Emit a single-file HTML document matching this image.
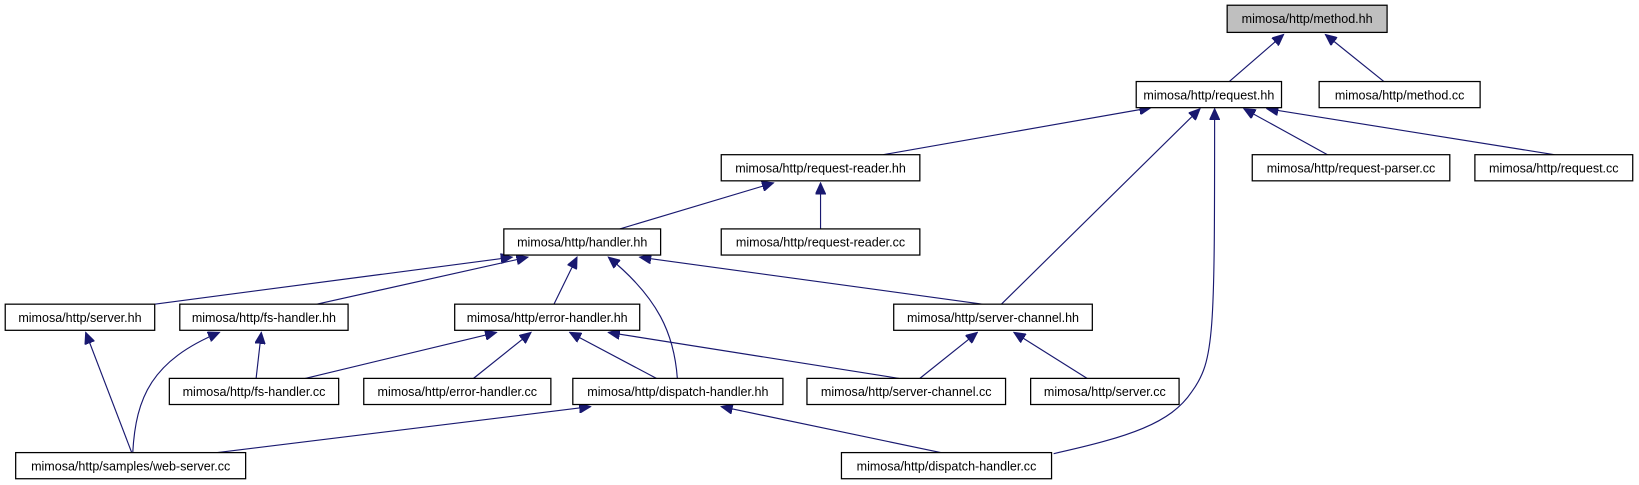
<!DOCTYPE html>
<html><head><meta charset="utf-8"><style>
html,body{margin:0;padding:0;background:#fff;}
svg{display:block;}
text{font-family:"Liberation Sans",sans-serif;font-size:12px;fill:#000;}
</style></head><body>
<svg width="1639" height="485" viewBox="0 0 1568 464" preserveAspectRatio="none" xmlns="http://www.w3.org/2000/svg">
<defs>
<marker id="a" markerUnits="userSpaceOnUse" markerWidth="12" markerHeight="10" refX="11" refY="5" orient="auto">
<path d="M0,0 L11,5 L0,10 z" fill="#191970" stroke="#191970"/>
</marker>
</defs>
<g stroke="#191970" stroke-width="1.1" fill="none" marker-end="url(#a)">
<line x1="1176" y1="78" x2="1228" y2="33"/>
<line x1="1324" y1="78" x2="1268" y2="33"/>
<line x1="845" y1="148" x2="1101" y2="103"/>
<line x1="1270" y1="148" x2="1190" y2="104"/>
<line x1="1487" y1="148" x2="1212" y2="104"/>
<line x1="958" y1="291" x2="1148" y2="104"/>
<path d="M1008,434 C1080,418 1120,405 1140,375 C1162,345 1162,320 1162,104"/>
<line x1="593" y1="219" x2="740" y2="175"/>
<line x1="785" y1="219" x2="785" y2="175"/>
<line x1="148" y1="291" x2="490" y2="246"/>
<line x1="303" y1="291" x2="505" y2="246"/>
<line x1="530" y1="291" x2="552" y2="246"/>
<path d="M648,362 C645,320 630,285 582,246"/>
<line x1="940" y1="291" x2="612" y2="246"/>
<line x1="126" y1="433" x2="82" y2="318"/>
<path d="M127,433 C130,380 145,345 210,318"/>
<line x1="245" y1="362" x2="250" y2="318"/>
<line x1="292" y1="362" x2="475" y2="318"/>
<line x1="453" y1="362" x2="508" y2="318"/>
<line x1="628" y1="362" x2="545" y2="318"/>
<line x1="860" y1="362" x2="582" y2="318"/>
<line x1="880" y1="362" x2="935" y2="318"/>
<line x1="1040" y1="362" x2="970" y2="318"/>
<line x1="208" y1="433" x2="565" y2="389"/>
<line x1="900" y1="433" x2="690" y2="389"/>
</g>
<g stroke="#000" stroke-width="1.2" fill="#fff">
<rect x="1174" y="5" width="153" height="26" fill="#bfbfbf"/>
<rect x="1087" y="78" width="139" height="25"/>
<rect x="1262" y="78" width="154" height="25"/>
<rect x="690" y="148" width="190" height="25"/>
<rect x="1198" y="148" width="189" height="25"/>
<rect x="1411" y="148" width="151" height="25"/>
<rect x="482" y="219" width="150" height="25"/>
<rect x="690" y="219" width="190" height="25"/>
<rect x="5" y="291" width="143" height="25"/>
<rect x="172" y="291" width="161" height="25"/>
<rect x="435" y="291" width="177" height="25"/>
<rect x="855" y="291" width="190" height="25"/>
<rect x="162" y="362" width="162" height="25"/>
<rect x="348" y="362" width="179" height="25"/>
<rect x="548" y="362" width="201" height="25"/>
<rect x="772" y="362" width="190" height="25"/>
<rect x="986" y="362" width="142" height="25"/>
<rect x="15" y="433" width="220" height="25"/>
<rect x="805" y="433" width="201" height="25"/>
</g>
<g text-anchor="middle">
<text x="1250.5" y="22">mimosa/http/method.hh</text>
<text x="1156.5" y="95">mimosa/http/request.hh</text>
<text x="1339" y="95">mimosa/http/method.cc</text>
<text x="785" y="165">mimosa/http/request-reader.hh</text>
<text x="1292.5" y="165">mimosa/http/request-parser.cc</text>
<text x="1486.5" y="165">mimosa/http/request.cc</text>
<text x="557" y="236">mimosa/http/handler.hh</text>
<text x="785" y="236">mimosa/http/request-reader.cc</text>
<text x="76.5" y="308">mimosa/http/server.hh</text>
<text x="252.5" y="308">mimosa/http/fs-handler.hh</text>
<text x="523.5" y="308">mimosa/http/error-handler.hh</text>
<text x="950" y="308">mimosa/http/server-channel.hh</text>
<text x="243" y="379">mimosa/http/fs-handler.cc</text>
<text x="437.5" y="379">mimosa/http/error-handler.cc</text>
<text x="648.5" y="379">mimosa/http/dispatch-handler.hh</text>
<text x="867" y="379">mimosa/http/server-channel.cc</text>
<text x="1057" y="379">mimosa/http/server.cc</text>
<text x="125" y="450">mimosa/http/samples/web-server.cc</text>
<text x="905.5" y="450">mimosa/http/dispatch-handler.cc</text>
</g>
</svg>
</body></html>
